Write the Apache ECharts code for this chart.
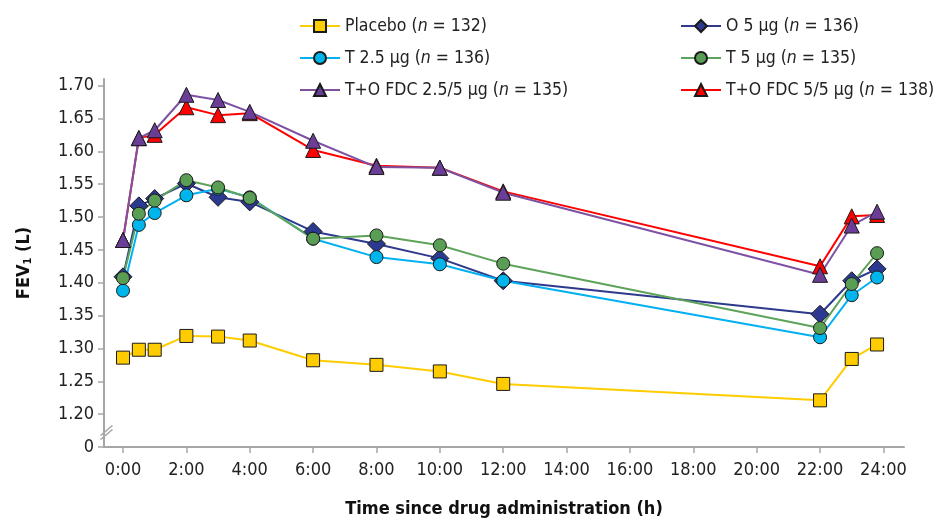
<!DOCTYPE html>
<html>
<head>
<meta charset="utf-8">
<script src="https://cdn.jsdelivr.net/npm/echarts@6/dist/echarts.min.js"></script>
<style>
  html, body { margin: 0; padding: 0; background: #fff; }
  #main { width: 936px; height: 520px; }
</style>
</head>
<body>
<div id="main"></div>
<script>
// time points (h)
const hours = [0, 0.5, 1, 2, 3, 4, 6, 8, 10, 12, 22, 23, 23.8];

// FEV1 (L) per arm
const placebo = [1.286, 1.298, 1.298, 1.319, 1.318, 1.312, 1.282, 1.275, 1.265, 1.246, 1.221, 1.284, 1.306];
const t25 = [1.388, 1.488, 1.506, 1.533, 1.543, 1.530, 1.467, 1.439, 1.428, 1.403, 1.317, 1.381, 1.408];
const t5 = [1.407, 1.505, 1.525, 1.556, 1.545, 1.529, 1.467, 1.472, 1.457, 1.429, 1.331, 1.398, 1.445];
const o5 = [1.409, 1.517, 1.528, 1.551, 1.530, 1.523, 1.478, 1.459, 1.437, 1.403, 1.352, 1.403, 1.421];
const fdc255 = [1.465, 1.620, 1.632, 1.686, 1.678, 1.660, 1.616, 1.576, 1.575, 1.537, 1.412, 1.487, 1.508];
const fdc55 = [1.465, 1.620, 1.625, 1.667, 1.655, 1.658, 1.602, 1.578, 1.575, 1.539, 1.425, 1.501, 1.503];

// axis ticks
const xTicks = [0, 2, 4, 6, 8, 10, 12, 14, 16, 18, 20, 22, 24];
const yTicks = [1.15, 1.20, 1.25, 1.30, 1.35, 1.40, 1.45, 1.50, 1.55, 1.60, 1.65, 1.70];  // 1.15 is drawn as the "0" below the break

const FONT = '"Liberation Sans Narrow", "DejaVu Sans Condensed", "Liberation Sans", sans-serif';
const AXIS_GREY = '#a6a6a6';

const pairs = (vals) => hours.map((h, i) => [h, vals[i]]);

// legend names (italic n via rich text)
const names = {
  placebo: 'Placebo (n = 132)',
  t25: 'T 2.5 μg (n = 136)',
  fdc255: 'T+O FDC 2.5/5 μg (n = 135)',
  o5: 'O 5 μg (n = 136)',
  t5: 'T 5 μg (n = 135)',
  fdc55: 'T+O FDC 5/5 μg (n = 138)'
};

function legendFmt(name) {
  const parts = name.split('(n');
  return '{a|' + parts[0] + '(}{i|n}{a|' + parts[1] + '}';
}

const legendText = {
  fontFamily: FONT,
  fontSize: 17.5,
  color: '#222',
  rich: {
    a: { fontFamily: FONT, fontSize: 17.5, color: '#222' },
    i: { fontFamily: FONT, fontSize: 17.5, color: '#222', fontStyle: 'italic' }
  }
};

function mkSeries(name, vals, lineColor, fill, symbol, size) {
  return {
    name: name,
    type: 'line',
    data: pairs(vals),
    symbol: symbol,
    symbolSize: size,
    showAllSymbol: true,
    lineStyle: { color: lineColor, width: 2 },
    itemStyle: { color: fill, borderColor: '#1a1a1a', borderWidth: 1 },
    emphasis: { disabled: true },
    animation: false
  };
}

const chart = echarts.init(document.getElementById('main'));

chart.setOption({
  backgroundColor: '#fff',
  animation: false,
  legend: [
    {
      data: [names.placebo, names.t25, names.fdc255],
      orient: 'vertical',
      left: 294,
      top: 12,
      itemWidth: 40,
      itemHeight: 15,
      itemGap: 14,
      formatter: legendFmt,
      textStyle: legendText
    },
    {
      data: [names.o5, names.t5, names.fdc55],
      orient: 'vertical',
      left: 675,
      top: 12,
      itemWidth: 40,
      itemHeight: 15,
      itemGap: 14,
      formatter: legendFmt,
      textStyle: legendText
    }
  ],
  grid: { left: 104, right: 32, top: 79, bottom: 73, containLabel: false, outerBoundsMode: 'none' },
  xAxis: {
    type: 'value',
    min: -0.6,
    max: 24.65,
    name: 'Time since drug administration (h)',
    nameLocation: 'middle',
    nameGap: 53,
    nameTextStyle: { fontFamily: FONT, fontSize: 18, fontWeight: 'bold', color: '#111' },
    axisLine: { onZero: false, lineStyle: { color: AXIS_GREY, width: 2 } },
    axisTick: { show: true, length: 6, lineStyle: { color: AXIS_GREY, width: 1.5 }, customValues: xTicks },
    axisLabel: {
      customValues: xTicks,
      formatter: (v) => v + ':00',
      fontFamily: FONT, fontSize: 18, color: '#222', margin: 14
    },
    splitLine: { show: false }
  },
  yAxis: {
    type: 'value',
    min: 1.15,
    max: 1.71,
    name: '{a|FEV}{s|1}{a| (L)}',
    nameLocation: 'middle',
    nameGap: 70,
    nameRotate: 90,
    nameTextStyle: {
      fontFamily: FONT, fontSize: 18, fontWeight: 'bold', color: '#111',
      rich: {
        a: { fontFamily: FONT, fontSize: 18, fontWeight: 'bold', color: '#111' },
        s: { fontFamily: FONT, fontSize: 11, fontWeight: 'bold', color: '#111', verticalAlign: 'bottom', padding: [8, 0, 0, 0] }
      }
    },
    axisLine: { show: true, onZero: false, lineStyle: { color: AXIS_GREY, width: 2 } },
    axisTick: { show: true, length: 6, lineStyle: { color: AXIS_GREY, width: 1.5 }, customValues: yTicks },
    axisLabel: {
      customValues: yTicks,
      formatter: (v) => (Math.abs(v - 1.15) < 1e-6 ? '0' : v.toFixed(2)),
      fontFamily: FONT, fontSize: 18, color: '#222', margin: 10
    },
    splitLine: { show: false }
  },
  graphic: [
    {
      type: 'group',
      left: 98,
      top: 423,
      children: [
        { type: 'rect', shape: { x: 2, y: 2, width: 8, height: 8 }, style: { fill: '#fff' } },
        { type: 'line', shape: { x1: 0, y1: 10, x2: 12, y2: 0 }, style: { stroke: AXIS_GREY, lineWidth: 1.5 } },
        { type: 'line', shape: { x1: 0, y1: 14, x2: 12, y2: 4 }, style: { stroke: AXIS_GREY, lineWidth: 1.5 } }
      ]
    }
  ],
  series: [
    mkSeries(names.placebo, placebo, '#ffcc00', '#ffcc00', 'rect', 13),
    mkSeries(names.o5, o5, '#2e3a8c', '#2b3990', 'diamond', 18),
    mkSeries(names.t25, t25, '#00b0f0', '#00b4ec', 'circle', 13),
    mkSeries(names.t5, t5, '#5ea35a', '#5a9e56', 'circle', 13),
    mkSeries(names.fdc55, fdc55, '#ff0000', '#ff0000', 'triangle', 15),
    mkSeries(names.fdc255, fdc255, '#7d52a3', '#6a3d96', 'triangle', 15)
  ]
});
</script>
</body>
</html>
